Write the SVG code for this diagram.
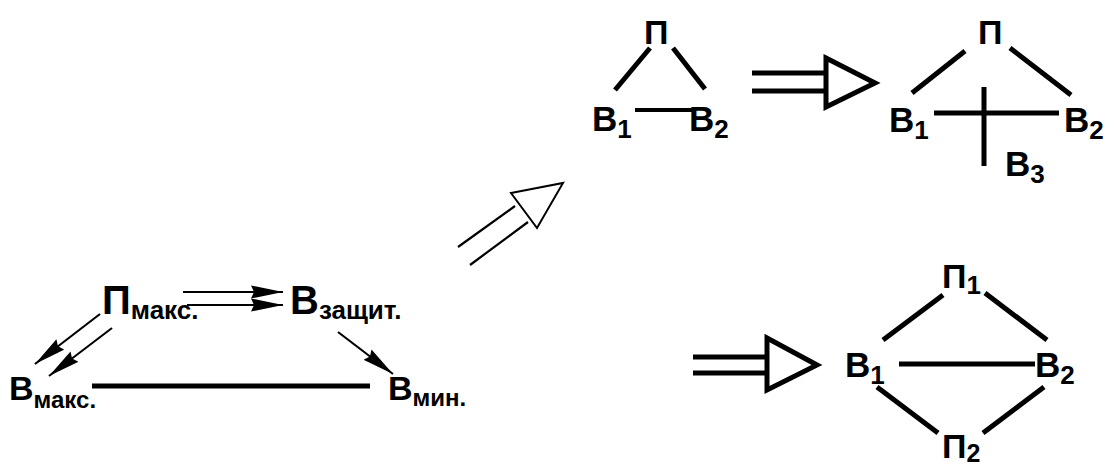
<svg xmlns="http://www.w3.org/2000/svg" width="1109" height="469" viewBox="0 0 1109 469">
<style>
text{font-family:"Liberation Sans",Arial,sans-serif;font-weight:bold;fill:#000}
.thick{stroke:#000;stroke-width:5;fill:none}
.mid{stroke:#000;stroke-width:4;fill:none}
.thin{stroke:#000;stroke-width:2.2;fill:none}
.hollow{stroke:#000;stroke-width:5;fill:#fff;stroke-linejoin:miter}
.hollowthin{stroke:#000;stroke-width:2;fill:#fff}
</style>
<defs>
<marker id="ah" markerUnits="userSpaceOnUse" markerWidth="32" markerHeight="14" refX="32" refY="7" orient="auto">
<path d="M0,0.5 L32,7 L0,13.5 L3,7 z" fill="#000"/>
</marker>
</defs>
<rect width="1109" height="469" fill="#fff"/>
<g id="connectors">
<line class="thin" x1="183" y1="292" x2="283" y2="292" marker-end="url(#ah)"/>
<line class="thin" x1="187" y1="305" x2="283" y2="305" marker-end="url(#ah)"/>
<line class="thin" x1="100" y1="314" x2="35" y2="364" marker-end="url(#ah)"/>
<line class="thin" x1="112" y1="328" x2="49" y2="376" marker-end="url(#ah)"/>
<line class="thin" x1="338" y1="332" x2="393" y2="374" marker-end="url(#ah)"/>
<line class="thick" x1="92" y1="386" x2="370" y2="386"/>
<line class="thin" x1="458" y1="247" x2="515" y2="206"/>
<line class="thin" x1="470" y1="265" x2="528" y2="222"/>
<polygon class="hollowthin" points="511,193 563,183 537,228"/>
<line class="thick" x1="650" y1="48" x2="615" y2="90"/>
<line class="thick" x1="673" y1="48" x2="705" y2="89"/>
<line class="mid" x1="635" y1="110" x2="692" y2="110"/>
<line class="thick" x1="752" y1="73" x2="826" y2="73"/>
<line class="thick" x1="752" y1="91" x2="826" y2="91"/>
<polygon class="hollow" points="826,58 875,83 826,107"/>
<line class="thick" x1="965" y1="51" x2="912" y2="93"/>
<line class="thick" x1="1010" y1="48" x2="1071" y2="95"/>
<line class="thick" x1="934" y1="113" x2="1059" y2="113"/>
<line class="thick" x1="984" y1="87" x2="984" y2="166"/>
<line class="thick" x1="693" y1="357" x2="767" y2="357"/>
<line class="thick" x1="693" y1="373" x2="767" y2="373"/>
<polygon class="hollow" points="767,338 817,365 767,390"/>
<line class="thick" x1="883" y1="340" x2="943" y2="295"/>
<line class="thick" x1="985" y1="293" x2="1047" y2="340"/>
<line class="thick" x1="899" y1="364" x2="1035" y2="364"/>
<line class="thick" x1="877" y1="387" x2="938" y2="433"/>
<line class="thick" x1="983" y1="433" x2="1044" y2="387"/>
</g>
<g id="p-maks"><text x="102" y="314" font-size="40">П<tspan font-size="26" dy="5">макс.</tspan></text></g>
<g id="v-zashchit"><text x="290" y="314" font-size="40">В<tspan font-size="26" dy="5">защит.</tspan></text></g>
<g id="v-maks"><text x="9" y="400" font-size="34">В<tspan font-size="24" dy="8">макс.</tspan></text></g>
<g id="v-min"><text x="388" y="400" font-size="34">В<tspan font-size="24" dy="6">мин.</tspan></text></g>
<g id="t1-p"><text x="644" y="44" font-size="34">П</text></g>
<g id="t1-v1"><text x="592" y="131" font-size="35">В<tspan font-size="26" dy="7">1</tspan></text></g>
<g id="t1-v2"><text x="689" y="131" font-size="35">В<tspan font-size="26" dy="7">2</tspan></text></g>
<g id="t2-p"><text x="978" y="44" font-size="34">П</text></g>
<g id="t2-v1"><text x="889" y="132" font-size="35">В<tspan font-size="26" dy="7">1</tspan></text></g>
<g id="t2-v2"><text x="1064" y="132" font-size="35">В<tspan font-size="26" dy="7">2</tspan></text></g>
<g id="t2-v3"><text x="1005" y="176" font-size="35">В<tspan font-size="26" dy="7">3</tspan></text></g>
<g id="t3-p1"><text x="942" y="288" font-size="34">П<tspan font-size="26" dy="6">1</tspan></text></g>
<g id="t3-v1"><text x="845" y="377" font-size="35">В<tspan font-size="26" dy="7">1</tspan></text></g>
<g id="t3-v2"><text x="1035" y="377" font-size="35">В<tspan font-size="26" dy="7">2</tspan></text></g>
<g id="t3-p2"><text x="942" y="458" font-size="34">П<tspan font-size="25" dy="4">2</tspan></text></g>
</svg>
